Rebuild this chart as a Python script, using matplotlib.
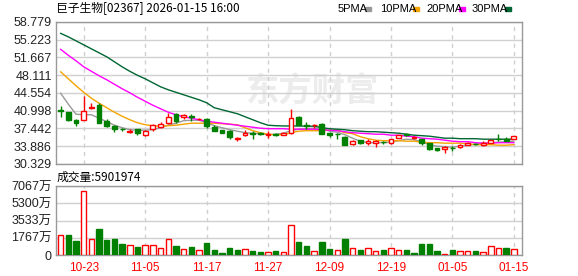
import numpy as np
import matplotlib
matplotlib.use('Agg')
import matplotlib.pyplot as plt

plt.rcParams['font.family'] = ['Liberation Sans', 'Noto Sans CJK SC', 'DejaVu Sans']

# daily candles, oldest first (open, high, low, close)
opens = [41.1, 40.7, 39.2, 39.2, 41.5, 42.2, 39.0, 37.9, 37.35, 36.7,
         37.3, 36.2, 37.3, 37.8, 38.6, 40.3, 39.8, 39.85, 39.3, 39.3,
         37.8, 37.1, 37.0, 35.3, 36.2, 36.6, 36.5, 36.2, 36.35, 36.2,
         36.5, 39.8, 38.1, 38.1, 38.3, 36.5, 36.35, 35.8, 34.3, 35.1,
         34.6, 34.6, 34.75, 34.5, 35.6, 36.25, 35.6, 35.3, 34.5, 33.5,
         33.3, 33.6, 33.7, 34.2, 34.35, 34.2, 34.6, 35.3, 35.25, 35.3]
highs = [42.0, 40.8, 39.4, 44.0, 42.5, 42.5, 39.4, 38.2, 37.6, 37.3,
         37.4, 37.2, 38.3, 38.8, 40.6, 40.6, 40.3, 40.3, 39.6, 39.5,
         38.1, 37.2, 37.1, 35.8, 37.1, 37.0, 36.7, 36.9, 36.5, 36.7,
         41.3, 40.0, 38.7, 38.3, 38.5, 36.7, 36.5, 35.9, 35.1, 35.2,
         35.3, 35.1, 35.0, 35.4, 36.2, 36.6, 35.8, 35.3, 34.5, 33.6,
         33.9, 33.9, 34.25, 34.7, 34.6, 34.9, 35.2, 36.3, 35.8, 35.95]
lows = [39.7, 39.0, 38.0, 39.2, 41.3, 38.6, 37.7, 36.8, 37.0, 36.5,
        36.2, 35.9, 36.9, 37.5, 38.3, 38.6, 39.4, 38.9, 39.1, 37.6,
        36.9, 36.5, 35.4, 35.0, 35.9, 35.4, 36.1, 35.5, 35.9, 36.1,
        36.3, 38.2, 37.3, 37.6, 36.3, 35.8, 35.4, 34.2, 34.2, 34.3,
        34.2, 33.8, 34.3, 34.3, 35.5, 35.9, 35.3, 34.1, 33.1, 32.9,
        32.6, 33.0, 33.6, 34.1, 34.1, 33.9, 34.5, 35.0, 34.95, 35.3]
closes = [40.9, 39.2, 38.5, 41.0, 41.7, 38.6, 37.9, 37.3, 37.25, 37.0,
          36.5, 36.9, 38.1, 38.3, 39.8, 39.0, 40.1, 39.75, 39.4, 37.9,
          37.0, 36.6, 35.7, 35.5, 36.6, 36.4, 36.3, 36.3, 36.2, 36.5,
          39.5, 38.2, 37.9, 38.2, 36.4, 36.2, 36.25, 34.2, 35.0, 34.5,
          34.85, 35.0, 34.65, 35.3, 36.1, 36.15, 35.7, 34.5, 33.4, 33.1,
          33.8, 33.5, 34.2, 34.6, 34.3, 34.45, 35.1, 35.25, 35.0, 35.95]

# moving averages as shown on the chart
ma5 = [44.5, 42.3, 40.3, 40.2, 40.2, 39.5, 38.8, 38.1, 37.6, 37.2,
       37.1, 37.1, 37.2, 37.6, 38.1, 38.5, 39.0, 39.1, 39.1, 38.6,
       38.0, 37.6, 37.2, 36.9, 36.6, 36.5, 36.4, 36.2, 36.3, 36.5,
       37.0, 37.3, 37.4, 37.5, 37.4, 36.9, 36.7, 36.2, 35.5, 34.9,
       34.6, 34.6, 34.6, 34.7, 35.0, 35.3, 35.2, 34.8, 34.2, 33.9,
       33.8, 33.7, 33.9, 34.1, 34.3, 34.5, 34.6, 34.7, 34.8, 34.9]
ma10 = [48.8, 47.4, 46.0, 44.7, 43.5, 42.5, 41.6, 40.7, 39.9, 39.2,
        38.6, 38.2, 38.0, 37.9, 38.0, 38.1, 38.3, 38.5, 38.5, 38.5,
        38.5, 38.4, 38.3, 38.2, 37.6, 37.0, 36.6, 36.3, 36.2, 36.2,
        36.6, 36.9, 37.0, 37.0, 37.0, 37.1, 37.1, 36.6, 36.4, 35.8,
        35.4, 35.1, 35.0, 35.0, 35.0, 34.9, 34.9, 34.7, 34.6, 34.6,
        34.5, 34.5, 34.5, 34.4, 34.2, 34.2, 34.2, 34.1, 34.1, 34.2]
ma20 = [53.3, 52.1, 51.0, 49.8, 48.9, 48.0, 47.2, 46.3, 45.4, 44.6,
        43.7, 42.9, 42.1, 41.4, 40.7, 40.2, 39.8, 39.5, 39.2, 38.9,
        38.7, 38.5, 38.3, 38.1, 37.9, 37.7, 37.5, 37.4, 37.4, 37.4,
        37.3, 37.3, 37.3, 37.3, 37.2, 37.1, 37.0, 36.8, 36.6, 36.5,
        36.4, 36.3, 36.3, 36.1, 36.1, 35.9, 35.8, 35.5, 35.4, 35.3,
        35.1, 34.9, 34.8, 34.8, 34.6, 34.5, 34.5, 34.6, 34.6, 34.6]
ma30 = [56.5, 55.8, 55.0, 54.2, 53.4, 52.6, 51.8, 50.8, 49.8, 48.9,
        48.1, 47.4, 46.6, 45.8, 45.2, 44.7, 44.2, 43.7, 43.2, 42.6,
        41.6, 41.2, 40.8, 40.4, 39.8, 39.2, 38.6, 38.1, 38.0, 37.95,
        37.95, 37.95, 37.9, 37.9, 37.6, 37.4, 37.3, 37.2, 37.0, 36.9,
        36.8, 36.8, 36.7, 36.6, 36.5, 36.3, 36.1, 36.0, 35.9, 35.7,
        35.5, 35.5, 35.4, 35.4, 35.4, 35.3, 35.3, 35.3, 35.3, 35.3]

# volume in 万 shares, and whether the bar is drawn as "up" (red)
volume = [2017, 2017, 1468, 6520, 1672, 2628, 1536, 1604, 1126, 1058,
          785, 990, 990, 717, 1672, 922, 649, 785, 512, 1195,
          512, 239, 717, 512, 649, 375, 307, 307, 444, 307,
          3037, 1331, 922, 375, 1331, 580, 512, 1672, 717, 512,
          717, 444, 512, 717, 512, 512, 239, 1126, 1126, 444,
          137, 512, 375, 375, 444, 307, 922, 717, 717, 590]
vol_up = [1, 0, 0, 1, 1, 0, 0, 0, 0, 1, 0, 1, 1, 1, 1, 0, 1, 0, 1, 0,
          0, 0, 0, 0, 1, 0, 0, 1, 0, 1, 1, 0, 0, 1, 0, 0, 1, 0, 1, 0,
          1, 1, 0, 1, 1, 0, 0, 0, 0, 0, 1, 0, 1, 1, 0, 1, 1, 1, 0, 1]

date_pos = [3, 11, 19, 27, 35, 43, 51, 59]
date_labels = ['10-23', '11-05', '11-17', '11-27', '12-09', '12-19', '01-05', '01-15']
price_ticks = [58.779, 55.223, 51.667, 48.111, 44.554, 40.998, 37.442, 33.886, 30.329]
vol_ticks = [0, 1767, 3533, 5300, 7067]

title = '巨子生物[02367] 2026-01-15 16:00'
vol_title = '成交量:5901974'

RED = '#ff0000'
GREEN = '#008000'
GRID = '#d0d0d0'
BORDER = '#999999'
ma_colors = ['#999999', '#f4a300', '#ff00ff', '#006633']
ma_names = ['5PMA', '10PMA', '20PMA', '30PMA']

W, H = 578, 276
fig = plt.figure(figsize=(W / 100, H / 100), dpi=100)
ax = fig.add_axes([56 / W, 1 - 164 / H, 466 / W, 142 / H])
axv = fig.add_axes([56 / W, 1 - 255 / H, 466 / W, 69 / H])

x = np.arange(len(closes))
o = np.array(opens)
c = np.array(closes)
up = c >= o

# grid
for a in (ax, axv):
    a.set_xlim(-0.61, 60.06)
    for p in date_pos:
        a.axvline(p, color=GRID, lw=1, ls=(0, (3, 3)), zorder=0.5)
    for s in a.spines.values():
        s.set_color(BORDER)
        s.set_linewidth(1)
    a.tick_params(length=0, pad=3)
    a.set_xticks([])

for t in price_ticks:
    ax.axhline(t, color=GRID, lw=1, zorder=0.5)
for t in vol_ticks:
    axv.axhline(t, color=GRID, lw=1, zorder=0.5)

# watermark
ax.text((312 - 56) / 466, (164 - 92) / 142, '东方财富', transform=ax.transAxes,
        fontsize=24, fontweight='bold', color='#ececec', ha='center', va='center',
        family=['Noto Sans CJK SC'], zorder=0.3)

# moving averages
for vals, col in zip([ma5, ma10, ma20, ma30], ma_colors):
    ax.plot(x, vals, color=col, lw=1, zorder=2)

# candles
w = 0.62
col = np.where(up, RED, GREEN)
ax.vlines(x, lows, highs, colors=col, lw=1, zorder=3)
body = np.maximum(np.abs(c - o), 0.06)
bottom = np.minimum(o, c)
ax.bar(x[up], body[up], w, bottom=bottom[up], facecolor='white',
       edgecolor=RED, lw=1, zorder=4)
ax.bar(x[~up], body[~up], w, bottom=bottom[~up], facecolor=GREEN,
       edgecolor=GREEN, lw=1, zorder=4)

ax.set_ylim(30.329, 58.779)
ax.set_yticks(price_ticks)
ax.set_yticklabels(['%.3f' % t for t in price_ticks], fontsize=9, color='#222222')

# volume bars
vu = np.array(vol_up, dtype=bool)
v = np.array(volume)
axv.bar(x[vu], v[vu], 0.7, facecolor='white', edgecolor=RED, lw=1, zorder=3)
axv.bar(x[~vu], v[~vu], 0.7, facecolor=GREEN, edgecolor=GREEN, lw=1, zorder=3)
axv.set_ylim(0, 7067)
axv.set_yticks(vol_ticks)
axv.set_yticklabels(['0'] + ['%d万' % t for t in vol_ticks[1:]], fontsize=9, color='#222222')
axv.set_xticks(date_pos)
axv.set_xticklabels(date_labels, fontsize=8.5, color=RED)
axv.tick_params(axis='x', pad=5)

# titles / legend
fig.text(56 / W, 1 - 9 / H, title, fontsize=8.5, va='center', ha='left',
         family=['Noto Sans CJK SC', 'DejaVu Sans'])
fig.text(57 / W, 1 - 177 / H, vol_title, fontsize=8.5, va='center', ha='left',
         family=['Noto Sans CJK SC', 'DejaVu Sans'])
text_x = [338, 380, 426, 472]
rect_x = [365, 413, 459, 505]
for name, colr, tx, rx in zip(ma_names, ma_colors, text_x, rect_x):
    fig.text(tx / W, 1 - 9 / H, name, fontsize=8, va='center', ha='left')
    fig.patches.append(plt.Rectangle((rx / W, 1 - 11 / H), 6 / W, 4 / H,
                                     transform=fig.transFigure, color=colr))

fig.savefig('out.png', dpi=100)
